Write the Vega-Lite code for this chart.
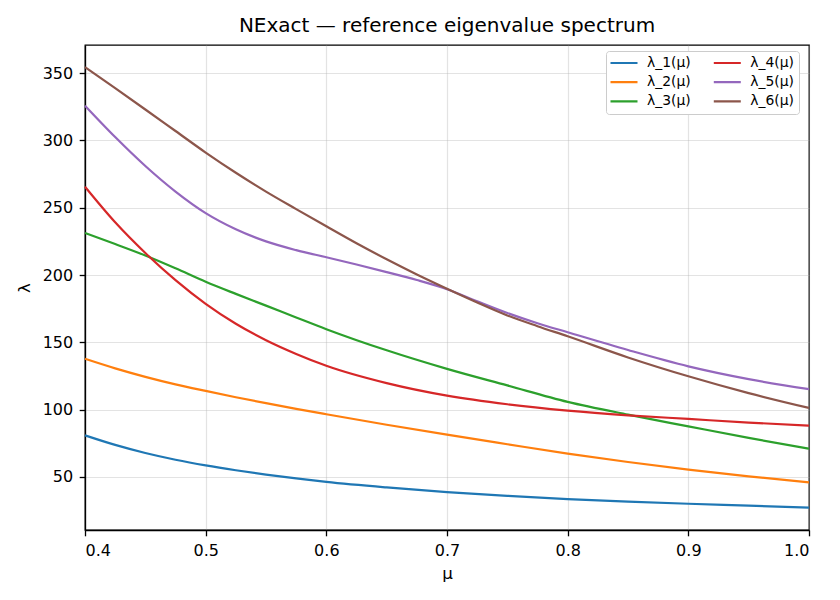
{
  "$schema": "https://vega.github.io/schema/vega-lite/v6.json",
  "autosize": {"type": "none"},
  "width": 724,
  "height": 485,
  "padding": {"left": 85, "top": 45, "right": 31, "bottom": 70},
  "background": "white",
  "title": {"text": "NExact — reference eigenvalue spectrum", "font": "DejaVu Sans", "fontSize": 20, "fontWeight": "normal", "color": "black", "offset": 9},
  "config": {
    "view": {"stroke": "black", "strokeWidth": 1.3},
    "axis": {
      "labelFont": "DejaVu Sans", "labelFontSize": 16, "labelColor": "black",
      "titleFont": "DejaVu Sans", "titleFontSize": 16.7, "titleFontWeight": "normal", "titleColor": "black",
      "domainColor": "black", "domainWidth": 1.3, "tickColor": "black", "tickWidth": 1.3, "tickSize": 5.8,
      "gridColor": "#b0b0b0", "gridOpacity": 0.35, "gridWidth": 1.2
    },
    "legend": {
      "labelFont": "DejaVu Sans", "labelFontSize": 13.9, "labelColor": "black"
    }
  },
  "data": {"values": [
    {"mu":0.4,"s":"λ_1(μ)","v":80.9},{"mu":0.425,"s":"λ_1(μ)","v":73.8},{"mu":0.45,"s":"λ_1(μ)","v":67.8},{"mu":0.475,"s":"λ_1(μ)","v":62.8},{"mu":0.5,"s":"λ_1(μ)","v":58.6},{"mu":0.525,"s":"λ_1(μ)","v":55.0},{"mu":0.55,"s":"λ_1(μ)","v":51.8},{"mu":0.575,"s":"λ_1(μ)","v":48.9},{"mu":0.6,"s":"λ_1(μ)","v":46.3},{"mu":0.65,"s":"λ_1(μ)","v":42.2},{"mu":0.7,"s":"λ_1(μ)","v":38.8},{"mu":0.75,"s":"λ_1(μ)","v":36.0},{"mu":0.8,"s":"λ_1(μ)","v":33.6},{"mu":0.85,"s":"λ_1(μ)","v":31.7},{"mu":0.9,"s":"λ_1(μ)","v":30.1},{"mu":0.95,"s":"λ_1(μ)","v":28.7},{"mu":1.0,"s":"λ_1(μ)","v":27.2},
    {"mu":0.4,"s":"λ_2(μ)","v":137.8},{"mu":0.425,"s":"λ_2(μ)","v":130.7},{"mu":0.45,"s":"λ_2(μ)","v":124.4},{"mu":0.475,"s":"λ_2(μ)","v":118.8},{"mu":0.5,"s":"λ_2(μ)","v":113.9},{"mu":0.525,"s":"λ_2(μ)","v":109.2},{"mu":0.55,"s":"λ_2(μ)","v":104.8},{"mu":0.575,"s":"λ_2(μ)","v":100.6},{"mu":0.6,"s":"λ_2(μ)","v":96.6},{"mu":0.65,"s":"λ_2(μ)","v":88.8},{"mu":0.7,"s":"λ_2(μ)","v":81.4},{"mu":0.75,"s":"λ_2(μ)","v":74.3},{"mu":0.8,"s":"λ_2(μ)","v":67.3},{"mu":0.85,"s":"λ_2(μ)","v":61.1},{"mu":0.9,"s":"λ_2(μ)","v":55.4},{"mu":0.95,"s":"λ_2(μ)","v":50.5},{"mu":1.0,"s":"λ_2(μ)","v":46.0},
    {"mu":0.4,"s":"λ_3(μ)","v":231.2},{"mu":0.425,"s":"λ_3(μ)","v":223.0},{"mu":0.45,"s":"λ_3(μ)","v":214.5},{"mu":0.475,"s":"λ_3(μ)","v":205.0},{"mu":0.5,"s":"λ_3(μ)","v":195.0},{"mu":0.525,"s":"λ_3(μ)","v":186.0},{"mu":0.55,"s":"λ_3(μ)","v":177.3},{"mu":0.575,"s":"λ_3(μ)","v":168.5},{"mu":0.6,"s":"λ_3(μ)","v":159.8},{"mu":0.65,"s":"λ_3(μ)","v":144.1},{"mu":0.7,"s":"λ_3(μ)","v":130.3},{"mu":0.75,"s":"λ_3(μ)","v":118.0},{"mu":0.8,"s":"λ_3(μ)","v":105.8},{"mu":0.85,"s":"λ_3(μ)","v":96.3},{"mu":0.9,"s":"λ_3(μ)","v":87.6},{"mu":0.95,"s":"λ_3(μ)","v":79.0},{"mu":1.0,"s":"λ_3(μ)","v":71.0},
    {"mu":0.4,"s":"λ_4(μ)","v":265.6},{"mu":0.425,"s":"λ_4(μ)","v":239.2},{"mu":0.45,"s":"λ_4(μ)","v":216.4},{"mu":0.475,"s":"λ_4(μ)","v":196.2},{"mu":0.5,"s":"λ_4(μ)","v":178.6},{"mu":0.525,"s":"λ_4(μ)","v":163.8},{"mu":0.55,"s":"λ_4(μ)","v":151.6},{"mu":0.575,"s":"λ_4(μ)","v":141.4},{"mu":0.6,"s":"λ_4(μ)","v":132.6},{"mu":0.65,"s":"λ_4(μ)","v":119.7},{"mu":0.7,"s":"λ_4(μ)","v":110.4},{"mu":0.75,"s":"λ_4(μ)","v":104.0},{"mu":0.8,"s":"λ_4(μ)","v":99.3},{"mu":0.85,"s":"λ_4(μ)","v":95.8},{"mu":0.9,"s":"λ_4(μ)","v":93.1},{"mu":0.95,"s":"λ_4(μ)","v":90.4},{"mu":1.0,"s":"λ_4(μ)","v":88.1},
    {"mu":0.4,"s":"λ_5(μ)","v":325.8},{"mu":0.425,"s":"λ_5(μ)","v":302.5},{"mu":0.45,"s":"λ_5(μ)","v":281.0},{"mu":0.475,"s":"λ_5(μ)","v":262.0},{"mu":0.5,"s":"λ_5(μ)","v":246.0},{"mu":0.525,"s":"λ_5(μ)","v":234.0},{"mu":0.55,"s":"λ_5(μ)","v":225.0},{"mu":0.575,"s":"λ_5(μ)","v":218.5},{"mu":0.6,"s":"λ_5(μ)","v":213.2},{"mu":0.625,"s":"λ_5(μ)","v":207.8},{"mu":0.65,"s":"λ_5(μ)","v":202.2},{"mu":0.675,"s":"λ_5(μ)","v":196.3},{"mu":0.7,"s":"λ_5(μ)","v":189.5},{"mu":0.725,"s":"λ_5(μ)","v":180.5},{"mu":0.75,"s":"λ_5(μ)","v":171.8},{"mu":0.775,"s":"λ_5(μ)","v":164.2},{"mu":0.8,"s":"λ_5(μ)","v":157.5},{"mu":0.85,"s":"λ_5(μ)","v":144.3},{"mu":0.9,"s":"λ_5(μ)","v":132.2},{"mu":0.95,"s":"λ_5(μ)","v":122.7},{"mu":1.0,"s":"λ_5(μ)","v":115.2},
    {"mu":0.4,"s":"λ_6(μ)","v":354.5},{"mu":0.425,"s":"λ_6(μ)","v":338.8},{"mu":0.45,"s":"λ_6(μ)","v":323.0},{"mu":0.475,"s":"λ_6(μ)","v":307.0},{"mu":0.5,"s":"λ_6(μ)","v":291.0},{"mu":0.525,"s":"λ_6(μ)","v":276.0},{"mu":0.55,"s":"λ_6(μ)","v":262.0},{"mu":0.575,"s":"λ_6(μ)","v":249.0},{"mu":0.6,"s":"λ_6(μ)","v":236.2},{"mu":0.625,"s":"λ_6(μ)","v":223.6},{"mu":0.65,"s":"λ_6(μ)","v":211.7},{"mu":0.675,"s":"λ_6(μ)","v":200.4},{"mu":0.7,"s":"λ_6(μ)","v":189.8},{"mu":0.725,"s":"λ_6(μ)","v":179.6},{"mu":0.75,"s":"λ_6(μ)","v":170.0},{"mu":0.775,"s":"λ_6(μ)","v":162.0},{"mu":0.8,"s":"λ_6(μ)","v":154.5},{"mu":0.85,"s":"λ_6(μ)","v":138.8},{"mu":0.9,"s":"λ_6(μ)","v":124.8},{"mu":0.95,"s":"λ_6(μ)","v":112.3},{"mu":1.0,"s":"λ_6(μ)","v":101.3}
  ]},
  "mark": {"type": "line", "strokeWidth": 2.2, "interpolate": "monotone"},
  "encoding": {
    "x": {"field": "mu", "type": "quantitative", "title": "μ",
      "scale": {"domain": [0.4, 1.0], "nice": false, "zero": false},
      "axis": {"values": [0.4, 0.5, 0.6, 0.7, 0.8, 0.9, 1.0], "format": ".1f", "labelPadding": 7, "titlePadding": 7}},
    "y": {"field": "v", "type": "quantitative", "title": "λ",
      "scale": {"domain": [10.6, 370.9], "nice": false, "zero": false},
      "axis": {"values": [50, 100, 150, 200, 250, 300, 350], "labelPadding": 6.5, "titlePadding": 9}},
    "color": {"field": "s", "type": "nominal", "title": null,
      "scale": {"domain": ["λ_1(μ)", "λ_2(μ)", "λ_3(μ)", "λ_4(μ)", "λ_5(μ)", "λ_6(μ)"],
        "range": ["#1f77b4", "#ff7f0e", "#2ca02c", "#d62728", "#9467bd", "#8c564b"]},
      "legend": {"orient": "none", "legendX": 521, "legendY": 6, "columns": 2,
        "symbolType": "stroke", "symbolSize": 784, "symbolStrokeWidth": 2.2, "symbolOffset": -2.5,
        "clipHeight": 15,
        "padding": 4.5, "rowPadding": 4.2, "columnPadding": 22.3, "labelOffset": 8,
        "fillColor": "white", "strokeColor": "#cccccc", "cornerRadius": 3}}
  }
}
